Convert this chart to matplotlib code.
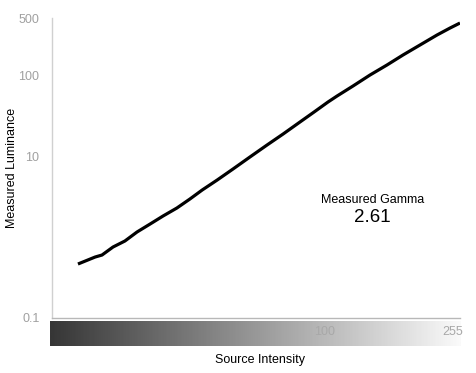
import numpy as np
import matplotlib
matplotlib.use("Agg")
import matplotlib.pyplot as plt
from matplotlib.colors import LinearSegmentedColormap

plt.rcParams['font.family'] = ['Liberation Sans', 'DejaVu Sans']

# Data
intensity = [18.3, 20.6, 21.6, 23.3, 25.3, 27.5, 30.1, 32.9, 36.2, 39.6, 43.1, 47.8,
             53.3, 59.9, 67.4, 75.3, 84.6, 93.2, 102.6, 109.2, 121.9, 137.1, 154.1,
             172.1, 193.5, 217.6, 238.1, 255]
luminance = [0.464, 0.566, 0.599, 0.752, 0.893, 1.153, 1.447, 1.816, 2.28, 2.945,
             3.804, 5.054, 6.91, 9.72, 13.67, 18.69, 26.3, 34.9, 46.4, 55.0, 73.1,
             100, 132.9, 176.6, 234.6, 311.8, 380.4, 438.5]
y_ticks = [0.1, 10, 100, 500]
y_tick_labels = ["0.1", "10", "100", "500"]
x_ticks = [100, 255]
x_tick_labels = ["100", "255"]
gamma_title = "Measured Gamma"
gamma_value = "2.61"

W, H = 477, 373
fig = plt.figure(figsize=(W / 100, H / 100), dpi=100)
ax = fig.add_axes([52 / W, 1 - 318 / H, (460 - 52) / W, (318 - 18.4) / H])

ax.plot(intensity, luminance, color='black', lw=2.3, solid_joinstyle='round',
        solid_capstyle='butt')
ax.set_xscale('log')
ax.set_yscale('log')
ax.set_xlim(15.3, 255)
ax.set_ylim(0.1, 500)

ax.set_yticks(y_ticks)
ax.set_yticklabels(y_tick_labels)
ax.yaxis.set_minor_locator(matplotlib.ticker.NullLocator())
ax.xaxis.set_minor_locator(matplotlib.ticker.NullLocator())
ax.tick_params(axis='y', length=0, pad=9, labelcolor='#a0a0a0', labelsize=9)
ax.set_xticks([])

for s in ['top', 'right']:
    ax.spines[s].set_visible(False)
ax.spines['left'].set_color('#d0d0d0')
ax.spines['bottom'].set_color('#b8b8b8')
ax.spines['left'].set_linewidth(1)
ax.spines['bottom'].set_linewidth(1)

fig.text(12 / W, 1 - 168 / H, "Measured Luminance", rotation=90, ha='center',
         va='center', fontsize=9)

# gradient bar
bar = fig.add_axes([50 / W, 1 - 346 / H, (461 - 50) / W, 25 / H])
cmap = LinearSegmentedColormap.from_list('g', ['#363636', '#fafafa'])
bar.imshow(np.linspace(0, 1, 400)[None, :], aspect='auto', cmap=cmap,
           extent=[np.log10(15.1), np.log10(255.5), 0, 1])
bar.set_xlim(np.log10(15.1), np.log10(255.5))
bar.axis('off')
for t, lab in zip(x_ticks, x_tick_labels):
    ha = 'right' if t == x_ticks[-1] else 'center'
    bar.text(np.log10(t) + (0.008 if ha == 'right' else 0), 0.55, lab, ha=ha,
             va='center', color='#a8a8a8', fontsize=9)

fig.text(260 / W, 1 - 360 / H, "Source Intensity", ha='center', va='center', fontsize=9)

fig.text(373 / W, 1 - 200 / H, gamma_title, ha='center', va='center', fontsize=9)
fig.text(372 / W, 1 - 218 / H, gamma_value, ha='center', va='center', fontsize=13.5)

fig.savefig("out.png", dpi=100, facecolor='white')
